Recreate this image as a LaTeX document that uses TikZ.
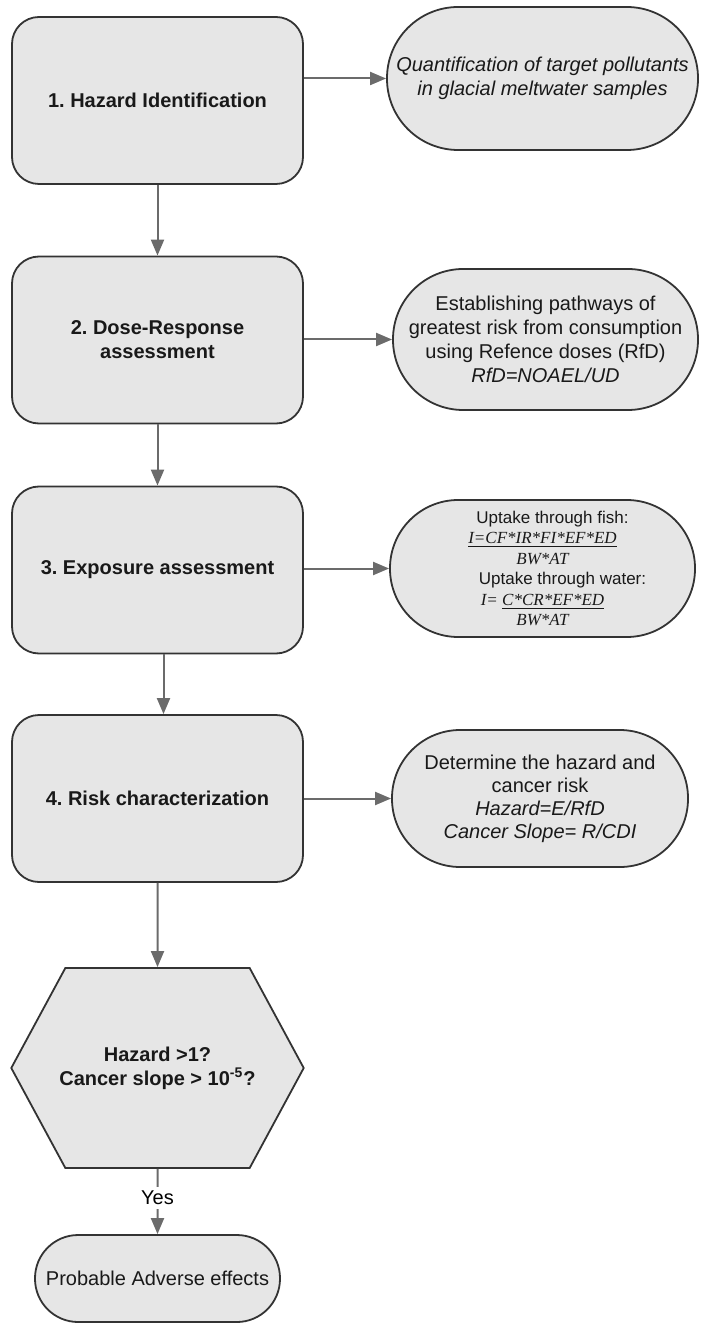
\documentclass[tikz,border=0pt]{standalone}
\usepackage{fontspec}
\setmainfont{Liberation Sans}
\newfontfamily\formfont{Liberation Serif}
\usetikzlibrary{arrows.meta,shapes.symbols}

\definecolor{boxfill}{HTML}{E6E6E6}
\definecolor{edge}{HTML}{333333}
\definecolor{arrowgray}{HTML}{6B6B6B}

\begin{document}
\frenchspacing
\begin{tikzpicture}[x=0.5pt,y=-0.5pt]

\tikzset{stage/.style = {shape=rectangle, rounded corners=13.5pt, draw=edge, fill=boxfill,
  line width=0.9pt, minimum width=145.5pt, minimum height=83.5pt, align=center,
  font=\bfseries, text=black!90}}
\tikzset{result/.style = {shape=rectangle, draw=edge, fill=boxfill, line width=0.9pt,
  align=center, inner sep=2pt, text=black!90}}
\tikzset{arc/.style = {-{Triangle[length=8pt,width=6.5pt]}, draw=arrowgray, line width=1pt}}

\useasboundingbox (0,0) rectangle (700,1325);

% steps
\node[stage] (haz)  at (157.5,100.5) {1. Hazard Identification};
\node[stage] (dose) at (157.5,340)   {2. Dose-Response\\assessment};
\node[stage] (expo) at (157.5,570)   {3. Exposure assessment};
\node[stage] (risk) at (157.5,798.5) {4. Risk characterization};

% outcomes
\node[result, minimum width=155.5pt, minimum height=71.5pt, rounded corners=35.6pt,
  font=\itshape] (qnt) at (542.5,78.5)
  {Quantification of target pollutants\\in glacial meltwater samples};
\node[result, minimum width=152.5pt, minimum height=70.5pt, rounded corners=35.1pt]
  (path) at (545.5,339.5)
  {Establishing pathways of\\greatest risk  from consumption\\using Refence doses (RfD)\\
   \textit{RfD=NOAEL/UD}};
\node[result, minimum width=152.5pt, minimum height=68.5pt, rounded corners=34.1pt,
  font=\fontsize{8.5}{10.2}\selectfont] (upt) at (542.5,568.5)
  {\hspace*{10pt}Uptake through fish:\\
   {\formfont\itshape\underline{I=CF*IR*FI*EF*ED}}\\
   {\formfont\itshape BW*AT}\\
   \hspace*{20pt}Uptake through water:\\
   {\formfont\itshape I= \underline{C*CR*EF*ED}}\\
   {\formfont\itshape BW*AT}};
\node[result, minimum width=148pt, minimum height=68.5pt, rounded corners=34.1pt,
  font=\fontsize{10}{11.5}\selectfont] (det) at (540,798.5)
  {Determine the hazard and\\cancer risk\\\textit{Hazard=E/RfD}\\
   \textit{Cancer Slope= R/CDI}};

% decision
\node[shape=signal, signal to=west and east, signal pointer angle=123.2, draw=edge,
  fill=boxfill, line width=0.9pt, inner xsep=-3pt, minimum height=100pt,
  align=center, font=\bfseries, text=black!90] (chk) at (157.5,1068)
  {Hazard >1?\\Cancer slope > 10\textsuperscript{-5}?};
\node[result, minimum width=122.5pt, minimum height=43.5pt, rounded corners=21.6pt]
  (adv) at (157.5,1278.5) {Probable Adverse effects};

% down the steps
\draw[arc] (haz) -- (dose);
\draw[arc] (dose) -- (expo);
\draw[arc] ([xshift=3pt]expo.south) -- ([xshift=3pt]risk.north);
\draw[arc] (risk) -- (chk);
\draw[arc] (chk) -- node[pos=0.44, fill=white, inner sep=2pt] {Yes} (adv);

% across to the outcomes
\draw[arc] (haz.east |- qnt.west) -- (qnt.west);
\draw[arc] (dose.east |- path.west) -- (path.west);
\draw[arc] (expo.east |- upt.west) -- (upt.west);
\draw[arc] (risk.east |- det.west) -- (det.west);

\end{tikzpicture}
\end{document}
